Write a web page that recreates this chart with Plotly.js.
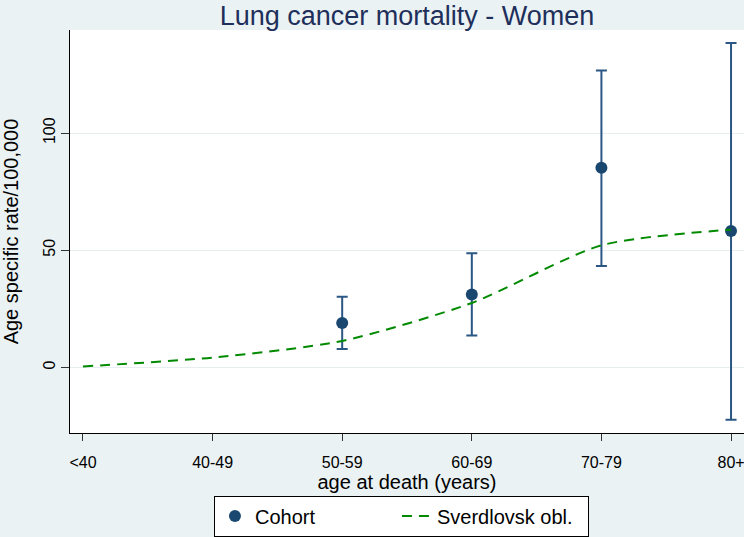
<!DOCTYPE html>
<html>
<head>
<meta charset="utf-8">
<script src="https://cdn.plot.ly/plotly-3.0.1.min.js"></script>
<style>
  html, body { margin: 0; padding: 0; background: #eaf2f3; }
  #chart { width: 744px; height: 537px; }
</style>
</head>
<body>
<div id="chart"></div>
<script>
// Age groups shown on the x axis
var ageGroups = ['<40', '40-49', '50-59', '60-69', '70-79', '80+'];

// Cohort: age-specific lung cancer mortality per 100,000 with 95% CI
var cohortGroups = ['50-59', '60-69', '70-79', '80+'];
var cohortRate  = [18.9, 31.1, 85.2, 58.2];
var cohortUpper = [30.1, 48.7, 126.7, 138.4];
var cohortLower = [7.8, 13.6, 43.3, -22.3];

// Regional reference rates (Sverdlovsk oblast)
var regionRate = [0.4, 4.2, 11.3, 27.5, 52.1, 58.8];

var yTicks = [0, 50, 100];

var FONT = 'Liberation Sans, Arial, Helvetica, sans-serif';
var NAVY = '#1a476f';

var errPlus = cohortUpper.map(function (u, i) { return u - cohortRate[i]; });
var errMinus = cohortLower.map(function (l, i) { return cohortRate[i] - l; });

var traces = [
  {
    type: 'scatter',
    mode: 'markers',
    name: 'Cohort',
    x: cohortGroups,
    y: cohortRate,
    marker: { color: NAVY, size: 12 },
    error_y: {
      type: 'data',
      symmetric: false,
      array: errPlus,
      arrayminus: errMinus,
      color: '#2b5784',
      thickness: 2,
      width: 5.5
    },
    legendwidth: 137
  },
  {
    type: 'scatter',
    mode: 'lines',
    name: 'Sverdlovsk obl.',
    x: ageGroups,
    y: regionRate,
    line: { color: '#008a00', width: 2, dash: '10px,7px', shape: 'spline', smoothing: 0.7 },
    legendwidth: 146
  }
];

var layout = {
  width: 744,
  height: 537,
  paper_bgcolor: '#eaf2f3',
  plot_bgcolor: '#ffffff',
  margin: { l: 70, r: 0, t: 30, b: 101, pad: 0 },
  font: { family: FONT, color: '#000000' },
  title: {
    text: 'Lung cancer mortality - Women',
    font: { family: FONT, size: 27, color: '#1e2f5b' },
    x: 0.5, xref: 'paper', xanchor: 'center',
    y: 0.971, yref: 'container', yanchor: 'middle'
  },
  xaxis: {
    type: 'category',
    categoryorder: 'array',
    categoryarray: ageGroups,
    range: [-0.1, 5.1],
    showgrid: false,
    zeroline: false,
    showline: true,
    linecolor: '#000000',
    linewidth: 1,
    ticks: 'outside',
    ticklen: 7,
    tickcolor: '#333333',
    ticklabelstandoff: 8,
    tickfont: { family: FONT, size: 16, color: '#000000' },
    title: { text: 'age at death (years)', font: { family: FONT, size: 20, color: '#000000' }, standoff: 2 },
    automargin: false
  },
  yaxis: {
    range: [-28, 144],
    tickvals: yTicks,
    ticktext: yTicks.map(String),
    tickangle: -90,
    showgrid: true,
    gridcolor: '#e6eef0',
    gridwidth: 1,
    zeroline: false,
    showline: true,
    linecolor: '#000000',
    linewidth: 1,
    ticks: 'outside',
    ticklen: 8,
    tickcolor: '#333333',
    ticklabelstandoff: 0,
    tickfont: { family: FONT, size: 16, color: '#000000' },
    title: { text: 'Age specific rate/100,000', font: { family: FONT, size: 20, color: '#000000' }, standoff: 20 },
    automargin: false
  },
  showlegend: true,
  legend: {
    orientation: 'h',
    x: 0.2136, xanchor: 'left',
    y: -0.1552, yanchor: 'top',
    bgcolor: '#ffffff',
    bordercolor: '#000000',
    borderwidth: 1,
    entrywidthmode: 'pixels',
    font: { family: FONT, size: 20, color: '#000000' }
  }
};

Plotly.newPlot('chart', traces, layout, { staticPlot: true, displayModeBar: false });
</script>
</body>
</html>
